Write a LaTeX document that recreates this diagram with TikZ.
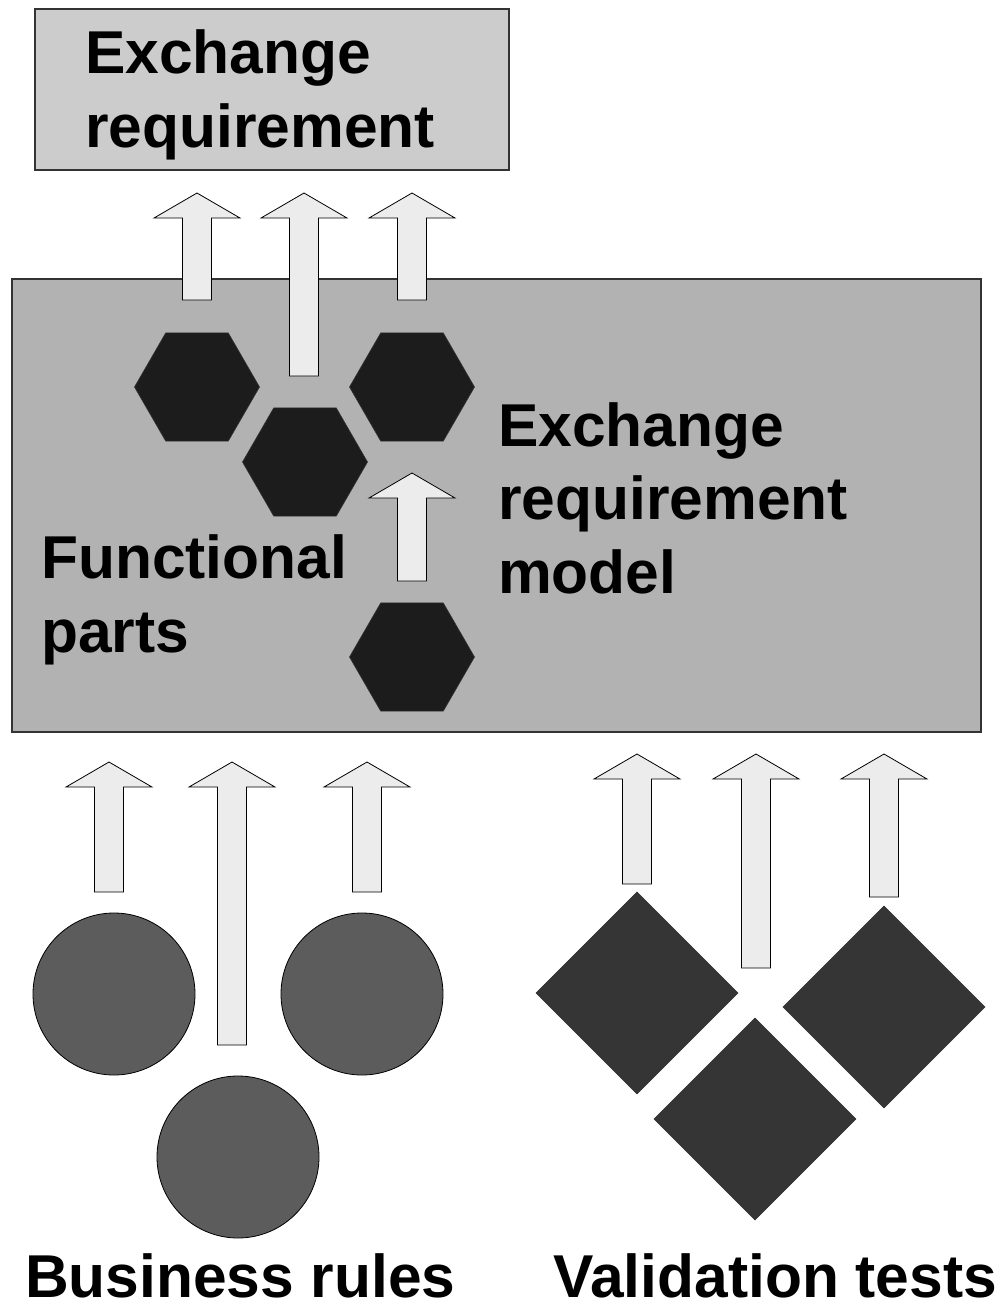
\documentclass[tikz,border=0pt]{standalone}
\usepackage{fontspec}
\setmainfont{Liberation Sans}
\usetikzlibrary{shapes.geometric}

\definecolor{reqfill}{HTML}{CCCCCC}
\definecolor{modelfill}{HTML}{B2B2B2}
\definecolor{hexfill}{HTML}{1C1C1C}
\definecolor{arrowfill}{HTML}{ECECEC}
\definecolor{rulefill}{HTML}{5C5C5C}
\definecolor{testfill}{HTML}{353535}
\definecolor{edge}{HTML}{333333}

\tikzset{
  panel/.style={draw=edge, line width=1.5pt, inner sep=0pt},
  label/.style={font=\bfseries\fontsize{60.5}{73.5}\selectfont, inner sep=0pt, align=left, anchor=base west},
  hexpart/.style={regular polygon, regular polygon sides=6, minimum size=125pt, inner sep=0pt,
                  fill=hexfill, draw=edge, line width=0.6pt},
  rulecircle/.style={circle, minimum size=162pt, inner sep=0pt, fill=rulefill, draw=black, line width=0.8pt},
  testdiamond/.style={diamond, aspect=1, minimum width=202pt, minimum height=202pt, inner sep=0pt,
                  fill=testfill, draw=edge, line width=0.6pt},
  blockarrow/.style={fill=arrowfill, draw=black, line width=0.8pt, line join=miter},
}

% hollow upward block arrow: tip x, tip y, tail y
\newcommand\uparrowblock[3]{%
  \draw[blockarrow] (#1,#2) -- ({#1+43},{#2+25}) -- ({#1+14.5},{#2+25}) -- ({#1+14.5},#3)
    -- ({#1-14.5},#3) -- ({#1-14.5},{#2+25}) -- ({#1-43},{#2+25}) -- cycle;}

\begin{document}
\begin{tikzpicture}[x=1pt, y=-1pt]
\useasboundingbox (0,0) rectangle (1008,1304);

% boxes (labels are anchored at the baseline of their last line)
\draw[panel, fill=reqfill] (35,9) rectangle (509,170);
\node[label] (req) at (85,147) {Exchange\\requirement};

\draw[panel, fill=modelfill] (12,279) rectangle (981,732);

% arrows from the model up to the requirement
\uparrowblock{197}{193}{300}
\uparrowblock{304}{193}{376}
\uparrowblock{412}{193}{300}

% functional parts
\node[hexpart] (hexA) at (197,387) {};
\node[hexpart] (hexB) at (305,462) {};
\node[hexpart] (hexC) at (412,387) {};
\node[hexpart] (hexD) at (412,657) {};
\uparrowblock{412}{473}{581}

\node[label] (model) at (498,593) {Exchange\\requirement\\model};
\node[label] (parts) at (41,652) {Functional\\parts};

% business rules
\uparrowblock{109}{762}{892}
\uparrowblock{232}{762}{1045}
\uparrowblock{367}{762}{892}
\node[rulecircle] (ruleA) at (114,994) {};
\node[rulecircle] (ruleB) at (362,994) {};
\node[rulecircle] (ruleC) at (238,1157) {};
\node[label] (rules) at (25,1297) {Business rules};

% validation tests
\uparrowblock{637}{754}{884}
\uparrowblock{756}{754}{968}
\uparrowblock{884}{754}{897}
\node[testdiamond] (testA) at (637,993) {};
\node[testdiamond] (testB) at (884,1007) {};
\node[testdiamond] (testC) at (755,1119) {};
\node[label] (tests) at (553,1297) {Validation tests};
\end{tikzpicture}
\end{document}
